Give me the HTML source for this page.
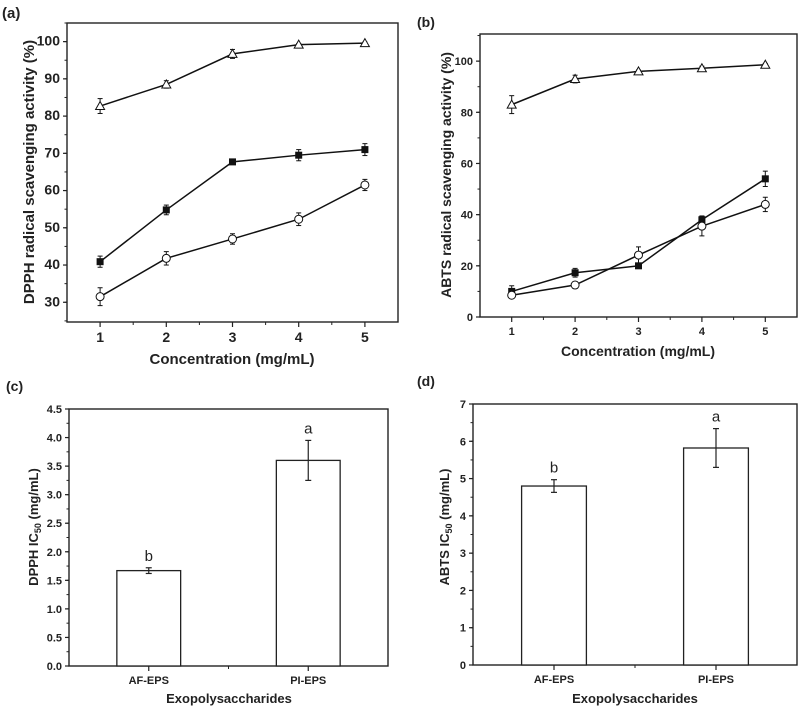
<!DOCTYPE html>
<html><head><meta charset="utf-8"><style>
body{margin:0;background:#fff;width:798px;height:707px;overflow:hidden}
svg{display:block}
text{font-family:"Liberation Sans",Arial,sans-serif;fill:#222}
</style></head><body>
<svg id="fig" width="798" height="707"></svg>
<script>
// Panel (a) DPPH
const concA=[1,2,3,4,5];
const aTri=[82.7,88.5,96.7,99.2,99.6], aTriErr=[2,1,1.2,0.3,0.3];
const aSq=[40.9,54.8,67.7,69.5,71.0], aSqErr=[1.5,1.3,0.4,1.5,1.6];
const aCir=[31.5,41.8,47.0,52.3,61.5], aCirErr=[2.4,1.8,1.4,1.7,1.5];
const aYTicks=[30,40,50,60,70,80,90,100];
// Panel (b) ABTS
const bTri=[83,93,96,97.2,98.6], bTriErr=[3.5,1.5,0.5,0.8,0.5];
const bSq=[10,17.3,20,38,54], bSqErr=[2.2,1.7,0.5,1.5,3];
const bCir=[8.5,12.5,24.2,35.5,44], bCirErr=[1,1.3,3.2,3.8,2.8];
const bYTicks=[0,20,40,60,80,100];
// Panel (c) DPPH IC50
const cats=["AF-EPS","PI-EPS"];
const cVals=[1.67,3.6], cErr=[0.05,0.35], cLetters=["b","a"];
const cYTicks=["0.0","0.5","1.0","1.5","2.0","2.5","3.0","3.5","4.0","4.5"];
// Panel (d) ABTS IC50
const dVals=[4.8,5.82], dErr=[0.17,0.52], dLetters=["b","a"];
const dYTicks=["0","1","2","3","4","5","6","7"];

const NS="http://www.w3.org/2000/svg";
const svg=document.getElementById('fig');
function mk(tag,attrs,parent,txt){const e=document.createElementNS(NS,tag);for(const k in attrs)e.setAttribute(k,attrs[k]);if(txt!==undefined)e.textContent=txt;(parent||svg).appendChild(e);return e;}
function axis(x0,x1,y0,y1,xd,yd){return{sx:v=>x0+(v-xd[0])/(xd[1]-xd[0])*(x1-x0),sy:v=>y1-(v-yd[0])/(yd[1]-yd[0])*(y1-y0)};}

function frame(g,x0,x1,y0,y1){
  const r=mk('rect',{x:x0,y:y0,width:x1-x0,height:y1-y0,fill:'none',stroke:'#222','stroke-width':1.4},g);
  
}
function yAxis(g,ax,x0,ticks,minorStep,yd,fs){
  ticks.forEach(t=>{const v=parseFloat(t);const y=ax.sy(v);
    mk('line',{x1:x0-4,x2:x0,y1:y,y2:y,stroke:'#222','stroke-width':1.2},g);
    const tx=mk('text',{x:x0-7,y:y+4,'text-anchor':'end','font-size':fs,'font-weight':'bold'},g,t);
    });
  for(let v=yd[0];v<=yd[1]+1e-9;v+=minorStep){const y=ax.sy(v);mk('line',{x1:x0-2.5,x2:x0,y1:y,y2:y,stroke:'#222','stroke-width':1},g);}
}
function lineSeries(g,ax,xs,ys,es,marker,name){
  const gg=mk('g',{},g);
  mk('polyline',{points:xs.map((x,i)=>ax.sx(x)+','+ax.sy(ys[i])).join(' '),fill:'none',stroke:'#111','stroke-width':1.5},gg);
  xs.forEach((x,i)=>{const px=ax.sx(x),py=ax.sy(ys[i]),t=ax.sy(ys[i]+es[i]),b=ax.sy(ys[i]-es[i]);
    mk('line',{x1:px,x2:px,y1:t,y2:b,stroke:'#111','stroke-width':1},gg);
    mk('line',{x1:px-2.5,x2:px+2.5,y1:t,y2:t,stroke:'#111','stroke-width':1},gg);
    mk('line',{x1:px-2.5,x2:px+2.5,y1:b,y2:b,stroke:'#111','stroke-width':1},gg);
    let m;
    if(marker==='sq')m=mk('rect',{x:px-3.5,y:py-3.5,width:7,height:7,fill:'#111'},gg);
    else if(marker==='ci')m=mk('circle',{cx:px,cy:py,r:4,fill:'#fff',stroke:'#111','stroke-width':1},gg);
    else m=mk('polygon',{points:`${px},${py-4.5} ${px-4.5},${py+3.5} ${px+4.5},${py+3.5}`,fill:'#fff',stroke:'#111','stroke-width':1},gg);
    
  });
}
function label(x,y,t,fs,extra){const e=mk('text',Object.assign({x:x,y:y,'font-size':fs,'font-weight':'bold'},extra||{}),svg,t);return e;}

// ---- Panel a
(function(){
  const x0=67,x1=398,y0=23,y1=322,xd=[0.5,5.5],yd=[24.7,105];
  const ax=axis(x0,x1,y0,y1,xd,yd);const g=mk('g',{});
  frame(g,x0,x1,y0,y1);
  yAxis(g,ax,x0,aYTicks.map(String),5,[25,105],14);
  concA.forEach(c=>{const x=ax.sx(c);mk('line',{x1:x,x2:x,y1:y1,y2:y1+5,stroke:'#222','stroke-width':1.2},g);
    const t=mk('text',{x:x,y:y1+20,'text-anchor':'middle','font-size':14,'font-weight':'bold'},g,String(c));});
  for(let c=1.5;c<5.5;c++){const x=ax.sx(c);mk('line',{x1:x,x2:x,y1:y1,y2:y1+3,stroke:'#222'},g);}
  lineSeries(g,ax,concA,aTri,aTriErr,'tri','series-triangle');
  lineSeries(g,ax,concA,aSq,aSqErr,'sq','series-square');
  lineSeries(g,ax,concA,aCir,aCirErr,'ci','series-circle');
  const pl=label(2,18,'(a)',15);
  const yt=label(0,0,'DPPH radical scavenging activity (%)',15,{transform:'translate(34,172) rotate(-90)','text-anchor':'middle'});
  const xt=label(232,364,'Concentration (mg/mL)',15,{'text-anchor':'middle'});
})();
// ---- Panel b
(function(){
  const x0=480,x1=797,y0=34,y1=317,xd=[0.5,5.5],yd=[0,110.6];
  const ax=axis(x0,x1,y0,y1,xd,yd);const g=mk('g',{});
  frame(g,x0,x1,y0,y1);
  yAxis(g,ax,x0,bYTicks.map(String),10,[0,110],11);
  concA.forEach(c=>{const x=ax.sx(c);mk('line',{x1:x,x2:x,y1:y1,y2:y1+5,stroke:'#222','stroke-width':1.2},g);
    const t=mk('text',{x:x,y:y1+18,'text-anchor':'middle','font-size':11,'font-weight':'bold'},g,String(c));});
  for(let c=1.5;c<5.5;c++){const x=ax.sx(c);mk('line',{x1:x,x2:x,y1:y1,y2:y1+3,stroke:'#222'},g);}
  lineSeries(g,ax,concA,bTri,bTriErr,'tri','series-triangle');
  lineSeries(g,ax,concA,bSq,bSqErr,'sq','series-square');
  lineSeries(g,ax,concA,bCir,bCirErr,'ci','series-circle');
  const pl=label(417,27,'(b)',14);
  const yt=label(0,0,'ABTS radical scavenging activity (%)',14,{transform:'translate(451,175) rotate(-90)','text-anchor':'middle'});
  const xt=label(638,356,'Concentration (mg/mL)',14,{'text-anchor':'middle'});
})();
// ---- Bars
function barPanel(name,x0,x1,y0,y1,yd,ticks,minor,vals,errs,letters,fsT){
  const ax=axis(x0,x1,y0,y1,[0.5,2.5],yd);const g=mk('g',{});
  frame(g,x0,x1,y0,y1);
  yAxis(g,ax,x0,ticks,minor,yd,fsT);
  const bw=(x1-x0)/5;
  cats.forEach((c,i)=>{const x=ax.sx(i+1);
    mk('line',{x1:x,x2:x,y1:y1,y2:y1+5,stroke:'#222','stroke-width':1.2},g);
    const t=mk('text',{x:x,y:y1+18,'text-anchor':'middle','font-size':11,'font-weight':'bold'},g,c);
    const r=mk('rect',{x:x-bw/2,y:ax.sy(vals[i]),width:bw,height:y1-ax.sy(vals[i]),fill:'#fff',stroke:'#222','stroke-width':1.3},g);
    
    const t1=ax.sy(vals[i]+errs[i]),b1=ax.sy(vals[i]-errs[i]);
    mk('line',{x1:x,x2:x,y1:t1,y2:b1,stroke:'#222','stroke-width':1.2},g);
    mk('line',{x1:x-3,x2:x+3,y1:t1,y2:t1,stroke:'#222','stroke-width':1.2},g);
    mk('line',{x1:x-3,x2:x+3,y1:b1,y2:b1,stroke:'#222','stroke-width':1.2},g);
    const l=mk('text',{x:x,y:t1-7,'text-anchor':'middle','font-size':15},g,letters[i]);
  });
  const xm=ax.sx(1.5);mk('line',{x1:xm,x2:xm,y1:y1,y2:y1+3,stroke:'#222'},g);
}
barPanel('panel-c-dpph-ic50-chart',69,388,409,666,[0,4.5],cYTicks,0.25,cVals,cErr,cLetters,11);
barPanel('panel-d-abts-ic50-chart',473,797,404,665,[0,7],dYTicks,0.5,dVals,dErr,dLetters,11);
(function(){
  let e=label(6,391,'(c)',14);
  e=label(417,386,'(d)',14);
  e=label(0,0,'',13,{transform:'translate(38,527) rotate(-90)','text-anchor':'middle'});
  e.innerHTML='DPPH IC<tspan font-size="9" dy="3">50</tspan><tspan dy="-3"> (mg/mL)</tspan>';
  
  e=label(0,0,'',13,{transform:'translate(449,527) rotate(-90)','text-anchor':'middle'});
  e.innerHTML='ABTS IC<tspan font-size="9" dy="3">50</tspan><tspan dy="-3"> (mg/mL)</tspan>';
  
  e=label(229,703,'Exopolysaccharides',13,{'text-anchor':'middle'});
  e=label(635,703,'Exopolysaccharides',13,{'text-anchor':'middle'});
})();
</script>
</body></html>
